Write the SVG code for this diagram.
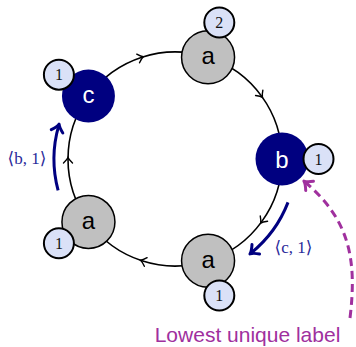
<svg xmlns="http://www.w3.org/2000/svg" width="356" height="347" viewBox="0 0 356 347">
<style>
.ring{fill:none;stroke:#000;stroke-width:1.6;marker-mid:url(#mid)}
.gray{fill:#c0c0c0;stroke:#000;stroke-width:1.5}
.navy{fill:#000080}
.badge{fill:#dae1f7;stroke:#000;stroke-width:2}
.lt{font-family:"Liberation Sans","DejaVu Sans",sans-serif;font-size:24px;text-anchor:middle}
.bt{font-family:"Liberation Serif","DejaVu Serif",serif;font-size:16px;text-anchor:middle;fill:#111}
.blue{fill:none;stroke:#000080;stroke-width:3;marker-end:url(#bh)}
.lab{font-family:"Liberation Serif","DejaVu Serif",serif;font-size:17px;fill:#2a2a9a;text-anchor:middle}
.pur{fill:none;stroke:#a0309e;stroke-width:3;stroke-dasharray:8 5;marker-end:url(#ph)}
</style>
<defs>
<marker id="mid" markerUnits="userSpaceOnUse" orient="auto" markerWidth="20" markerHeight="20" viewBox="-10 -10 20 20" refX="0" refY="0" overflow="visible">
<path d="M-4,-4.5 Q-0.5,-0.8 1.5,0 Q-0.5,0.8 -4,4.5" fill="none" stroke="#000" stroke-width="1.4" stroke-linecap="round"/>
</marker>
<marker id="bh" markerUnits="userSpaceOnUse" orient="auto" markerWidth="24" markerHeight="24" viewBox="-12 -12 24 24" refX="0" refY="0" overflow="visible">
<path d="M-6,-6 Q-1.5,-1 1.5,0 Q-1.5,1 -6,6" fill="none" stroke="#000080" stroke-width="3" stroke-linecap="round" stroke-linejoin="round"/>
</marker>
<marker id="ph" markerUnits="userSpaceOnUse" orient="auto" markerWidth="24" markerHeight="24" viewBox="-12 -12 24 24" refX="0" refY="0" overflow="visible">
<path d="M-6,-6 Q-1.5,-1 1.5,0 Q-1.5,1 -6,6" fill="none" stroke="#a0309e" stroke-width="3" stroke-linecap="round" stroke-linejoin="round"/>
</marker>
</defs>
<g id="connectors">
<path class="ring" d="M282,159 A107,107 0 0 1 261.56,221.89 A107,107 0 0 1 208.06,260.76"/>
<path class="ring" d="M208.06,260.76 A107,107 0 0 1 141.94,260.76 A107,107 0 0 1 88.44,221.89"/>
<path class="ring" d="M88.44,221.89 A107,107 0 0 1 68,159 A107,107 0 0 1 88.44,96.11"/>
<path class="ring" d="M88.44,96.11 A107,107 0 0 1 141.94,57.24 A107,107 0 0 1 208.06,57.24"/>
<path class="ring" d="M208.06,57.24 A107,107 0 0 1 261.56,96.11 A107,107 0 0 1 282,159"/>
<path class="blue" d="M58.1,190.3 A121,121 0 0 1 58.7,125.6"/>
<path class="blue" d="M288,202.4 A121,121 0 0 1 251.1,253"/>
<path class="pur" d="M350,318 C357,260 350,220 305,182"/>
</g>
<g id="node-a-top">
<circle class="gray" cx="208.06" cy="57.24" r="26.5"/>
<text class="lt" x="208.06" y="64">a</text>
<circle class="badge" cx="219.3" cy="22.5" r="15"/>
<text class="bt" x="219.3" y="28">2</text>
</g>
<g id="node-b">
<circle class="navy" cx="282" cy="159" r="26.5"/>
<text class="lt" x="282" y="168" fill="#fff">b</text>
<circle class="badge" cx="318.5" cy="159" r="15"/>
<text class="bt" x="318.5" y="164.5">1</text>
</g>
<g id="node-a-bottom">
<circle class="gray" cx="208.06" cy="260.76" r="26.5"/>
<text class="lt" x="208.06" y="267.5">a</text>
<circle class="badge" cx="219.3" cy="295.5" r="15"/>
<text class="bt" x="219.3" y="301">1</text>
</g>
<g id="node-a-left">
<circle class="gray" cx="88.44" cy="221.89" r="26.5"/>
<text class="lt" x="88.44" y="228.6">a</text>
<circle class="badge" cx="58.9" cy="243.3" r="15"/>
<text class="bt" x="58.9" y="248.8">1</text>
</g>
<g id="node-c">
<circle class="navy" cx="88.44" cy="96.11" r="26.5"/>
<text class="lt" x="88.44" y="103.2" fill="#fff">c</text>
<circle class="badge" cx="58.9" cy="74.7" r="15"/>
<text class="bt" x="58.9" y="80.2">1</text>
</g>
<g id="labels">
<text class="lab" x="27" y="164">⟨b, 1⟩</text>
<text class="lab" x="293.5" y="253">⟨c, 1⟩</text>
<text x="247.5" y="342" font-family="Liberation Sans, DejaVu Sans, sans-serif" font-size="21" fill="#a0309e" text-anchor="middle">Lowest unique label</text>
</g>
</svg>
